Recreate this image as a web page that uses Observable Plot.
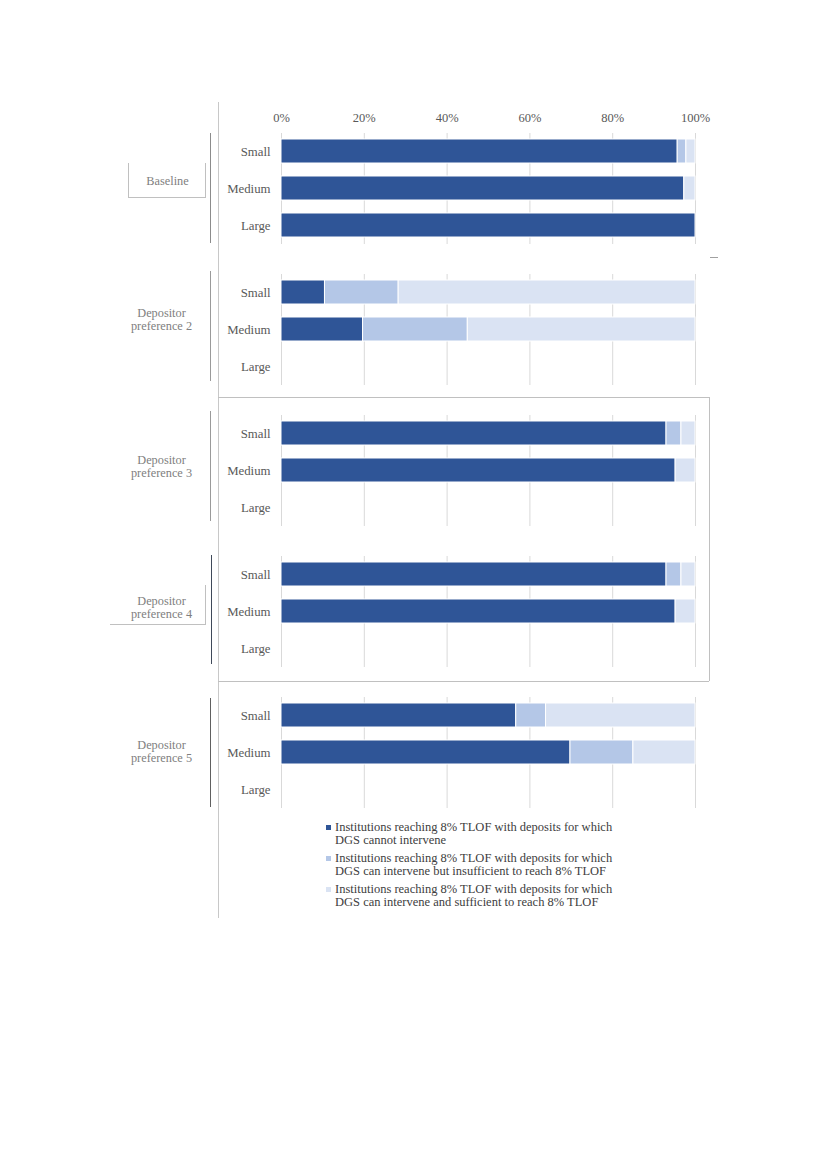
<!DOCTYPE html>
<html>
<head>
<meta charset="utf-8">
<script src="https://cdn.jsdelivr.net/npm/d3@7"></script>
<script src="https://cdn.jsdelivr.net/npm/@observablehq/plot@0.6"></script>
<style>
  html, body { margin: 0; padding: 0; background: #fff; }
  #page { position: relative; width: 827px; height: 1169px; font-family: "Liberation Serif", "Times New Roman", serif; }
  #chart { position: absolute; left: 0; top: 0; }
  .deco { position: absolute; }
  #legend { position: absolute; left: 326px; top: 821px; font-size: 12.5px; color: #404040; line-height: 13px; }
  #legend .item { display: flex; align-items: flex-start; margin-bottom: 5px; }
  #legend .sw { width: 5px; height: 5px; margin-top: 4px; margin-right: 4px; flex: none; }
</style>
</head>
<body>
<div id="page">
  <div id="chart"></div>
  <div id="legend"></div>
</div>
<script>
const groups = ["Baseline", "Depositor preference 2", "Depositor preference 3", "Depositor preference 4", "Depositor preference 5"];
const groupLabels = ["Baseline", "Depositor\npreference 2", "Depositor\npreference 3", "Depositor\npreference 4", "Depositor\npreference 5"];
const sizes = ["Small", "Medium", "Large"];
const seriesNames = [
  "Institutions reaching 8% TLOF with deposits for which DGS cannot intervene",
  "Institutions reaching 8% TLOF with deposits for which DGS can intervene but insufficient to reach 8% TLOF",
  "Institutions reaching 8% TLOF with deposits for which DGS can intervene and sufficient to reach 8% TLOF"
];
const legendLines = [
  ["Institutions reaching 8% TLOF with deposits for which", "DGS cannot intervene"],
  ["Institutions reaching 8% TLOF with deposits for which", "DGS can intervene but insufficient to reach 8% TLOF"],
  ["Institutions reaching 8% TLOF with deposits for which", "DGS can intervene and sufficient to reach 8% TLOF"]
];
const seriesColors = ["#2F5597", "#B4C7E7", "#DAE3F3"];
const xTicks = [0, 20, 40, 60, 80, 100];

// values per group, in order Small, Medium, Large (null = no data)
const cannotIntervene = [95.7, 97.3, 100, 10.5, 19.7, null, 93.0, 95.2, null, 93.0, 95.2, null, 56.7, 69.8, null];
const insufficient    = [2.1, 0, 0, 17.8, 25.3, null, 3.6, 0, null, 3.6, 0, null, 7.2, 15.2, null];
const sufficient      = [2.2, 2.7, 0, 71.7, 55.0, null, 3.4, 4.8, null, 3.4, 4.8, null, 36.1, 15.0, null];

const seriesValues = [cannotIntervene, insufficient, sufficient];
const rows = [];
groups.forEach((g, gi) => {
  sizes.forEach((s, si) => {
    seriesValues.forEach((vals, k) => {
      const v = vals[gi * 3 + si];
      if (v != null && v > 0) rows.push({group: g, size: s, series: seriesNames[k], value: v});
    });
  });
});

// label placement tweaks (layout only)
const labelDx = [-114, -120, -120, -120, -120];
const labelDy = [-8, -11, -5, -5, -2];

const chart = Plot.plot({
  width: 827,
  height: 810,
  marginLeft: 281,
  marginRight: 132,
  marginTop: 133,
  marginBottom: 2,
  style: {fontFamily: "'Liberation Serif', 'Times New Roman', serif", fontSize: "12.8px", color: "#595959", background: "transparent"},
  x: {domain: [0, 100], label: null},
  y: {domain: sizes, paddingInner: 0.35, paddingOuter: 0.175, label: null},
  fy: {domain: groups, paddingInner: 0.213, paddingOuter: 0, axis: null, label: null},
  color: {domain: seriesNames, range: seriesColors},
  marks: [
    Plot.gridX(xTicks, {stroke: "#d9d9d9", strokeOpacity: 1, strokeWidth: 1}),
    Plot.axisX(xTicks, {anchor: "top", tickSize: 0, tickPadding: 12, tickFormat: d => d + "%", fontSize: 12.5, label: null}),
    Plot.axisY({tickSize: 0, tickPadding: 11, fontSize: 12.8, label: null}),
    Plot.barX(rows, {x: "value", y: "size", fy: "group", fill: "series", stroke: "white", strokeWidth: 1, order: null}),
    ...groups.map((g, i) => Plot.text([g], {fy: d => d, text: () => groupLabels[i], frameAnchor: "left", dx: labelDx[i], dy: labelDy[i], textAnchor: "middle", fill: "#808080", fontSize: 12.3, lineHeight: 1.06}))
  ]
});
document.getElementById("chart").appendChild(chart);

// legend
const legend = document.getElementById("legend");
legendLines.forEach((lines, i) => {
  const item = document.createElement("div");
  item.className = "item";
  const sw = document.createElement("div");
  sw.className = "sw";
  sw.style.background = seriesColors[i];
  const t = document.createElement("div");
  t.innerHTML = lines.join("<br>");
  item.appendChild(sw);
  item.appendChild(t);
  legend.appendChild(item);
});

// decorative frame lines from the source document
const page = document.getElementById("page");
function line(x, y, w, h, color) {
  const d = document.createElement("div");
  d.className = "deco";
  Object.assign(d.style, {left: x + "px", top: y + "px", width: w + "px", height: h + "px", background: color});
  page.appendChild(d);
}
line(218, 102, 1, 816, "#c8c8c8");
line(210, 133, 1, 110, "#8c8c8c");
line(128, 163, 1, 35, "#c0c0c0");
line(128, 197, 78, 1, "#c0c0c0");
line(205, 163, 1, 35, "#c0c0c0");
line(210, 271, 1, 110, "#9a9a9a");
line(210, 411, 1, 110, "#9a9a9a");
line(218, 397, 491, 1, "#c0c0c0");
line(709, 397, 1, 284, "#c0c0c0");
line(218, 681, 491, 1, "#c0c0c0");
line(211, 555, 1, 109, "#404a5a");
line(110, 624, 96, 1, "#c0c0c0");
line(205, 585, 1, 40, "#c0c0c0");
line(210, 698, 1, 109, "#606060");
line(710, 257, 8, 1, "#a0a0a0");
</script>
</body>
</html>
